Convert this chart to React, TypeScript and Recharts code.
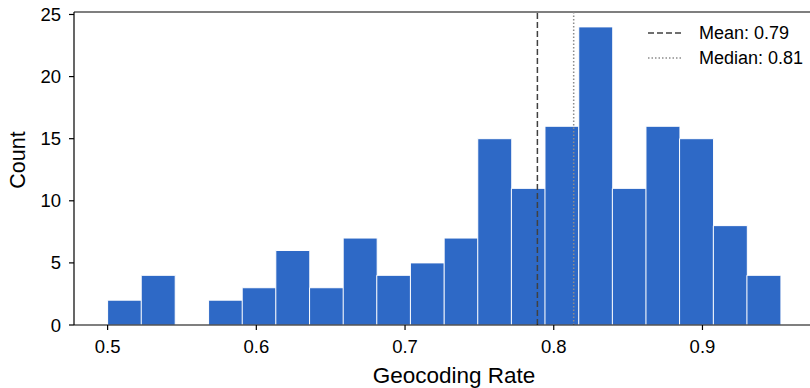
import { ComposedChart, Bar, XAxis, YAxis, ReferenceLine } from 'recharts';

// histogram bins (centers) and counts
const binCenters = [
  0.5113, 0.5339, 0.5566, 0.5792, 0.6018, 0.6244, 0.6471, 0.6697, 0.6923, 0.7149,
  0.7376, 0.7602, 0.7828, 0.8054, 0.8281, 0.8507, 0.8733, 0.8959, 0.9186, 0.9412,
];
const counts = [2, 4, 0, 2, 3, 6, 3, 7, 4, 5, 7, 15, 11, 16, 24, 11, 16, 15, 8, 4];
const xTicks = [0.5, 0.6, 0.7, 0.8, 0.9];
const yTicks = [0, 5, 10, 15, 20, 25];
const meanValue = 0.789;
const medianValue = 0.8134;

const data = binCenters.map((c, i) => ({ center: c, count: counts[i] }));

const FONT = '"Liberation Sans", Arial, Helvetica, sans-serif';
const BAR_COLOR = '#2e69c6';
const MEAN_COLOR = '#404040';
const MEDIAN_COLOR = '#8c8c8c';

const legendItems = [
  { label: `Mean: ${meanValue.toFixed(2)}`, color: MEAN_COLOR, dash: '6 3' },
  { label: `Median: ${medianValue.toFixed(2)}`, color: MEDIAN_COLOR, dash: '1.5 2' },
];

// legend drawn in its own small svg, laid over the plot (upper right)
const LegendBox = () => (
  <svg width={170} height={60} style={{ position: 'absolute', left: 640, top: 12 }}>
    {legendItems.map((item, i) => (
      <g key={item.label}>
        <line
          x1={8}
          x2={42}
          y1={21 + i * 25}
          y2={21 + i * 25}
          stroke={item.color}
          strokeWidth={1.5}
          strokeDasharray={item.dash}
        />
        <text x={59} y={27 + i * 25.3} fontSize={18} fontFamily={FONT} fill="#000">
          {item.label}
        </text>
      </g>
    ))}
  </svg>
);

const App = () => {
  return (
    <div
      style={{
        position: 'absolute',
        left: 0,
        top: 0,
        width: 810,
        height: 388,
        overflow: 'hidden',
        background: '#fff',
      }}
    >
      <ComposedChart
        width={814}
        height={388}
        data={data}
        margin={{ top: 12, right: 0, bottom: 0, left: 0 }}
        barCategoryGap={0}
        barGap={0}
      >
        <XAxis
          dataKey="center"
          type="number"
          domain={[0.4774, 0.975]}
          ticks={xTicks}
          allowDataOverflow
          tickFormatter={(v: number) => v.toFixed(1)}
          height={63}
          tickSize={5}
          tickMargin={10}
          axisLine={{ stroke: '#000', strokeWidth: 1.2 }}
          tickLine={{ stroke: '#000', strokeWidth: 1.2 }}
          tick={{ fill: '#000', fontSize: 18.5, fontFamily: FONT }}
          label={{
            content: () => (
              <text x={454} y={383} textAnchor="middle" fontSize={22.5} fontFamily={FONT} fill="#000">
                Geocoding Rate
              </text>
            ),
          }}
        />
        <YAxis
          type="number"
          domain={[0, 25.2]}
          ticks={yTicks}
          allowDataOverflow
          width={74}
          tickSize={5}
          tickMargin={8}
          axisLine={{ stroke: '#000', strokeWidth: 1.2 }}
          tickLine={{ stroke: '#000', strokeWidth: 1.2 }}
          tick={{ fill: '#000', fontSize: 18.5, fontFamily: FONT }}
          label={{
            content: () => (
              <text
                x={25}
                y={160}
                transform="rotate(-90, 25, 160)"
                textAnchor="middle"
                fontSize={21.5}
                fontFamily={FONT}
                fill="#000"
              >
                Count
              </text>
            ),
          }}
        />
        <Bar dataKey="count" fill={BAR_COLOR} stroke="#fff" strokeWidth={1} isAnimationActive={false} />
        <ReferenceLine y={25.2} stroke="#000" strokeWidth={1.2} />
        <ReferenceLine x={meanValue} stroke={MEAN_COLOR} strokeWidth={1.5} strokeDasharray="6 3" />
        <ReferenceLine x={medianValue} stroke={MEDIAN_COLOR} strokeWidth={1.5} strokeDasharray="1.5 2" />
      </ComposedChart>
      <LegendBox />
    </div>
  );
};

export default App;
